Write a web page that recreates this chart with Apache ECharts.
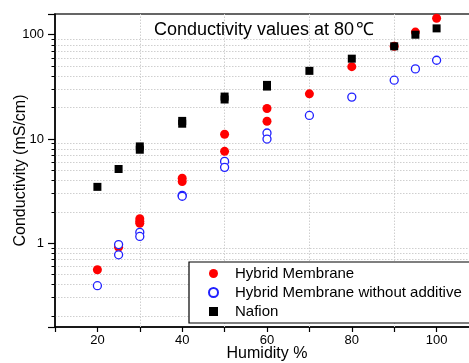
<!DOCTYPE html>
<html><head><meta charset="utf-8">
<script src="https://cdn.jsdelivr.net/npm/echarts@6/dist/echarts.min.js"></script>
<style>html,body{margin:0;padding:0;background:#fff}#c{width:469px;height:363px}</style>
</head><body><div id="c"></div>
<script>
const seriesNames = ['Hybrid Membrane', 'Hybrid Membrane without additive', 'Nafion'];
const hybridX = [20, 25, 30, 30, 30, 40, 40, 50, 50, 60, 60, 70, 80, 90, 95, 100];
const hybridY = [0.556, 0.916, 1.72, 1.62, 1.55, 4.2, 3.9, 11.1, 7.6, 19.6, 14.8, 27.1, 49.4, 77.4, 106, 144];
const noAddX = [20, 25, 25, 30, 30, 40, 40, 50, 50, 60, 60, 70, 80, 90, 95, 100];
const noAddY = [0.391, 0.97, 0.774, 1.27, 1.16, 2.88, 2.82, 6.09, 5.34, 11.4, 9.98, 16.8, 25.2, 36.6, 47.0, 56.9];
const nafionX = [20, 25, 30, 30, 40, 40, 50, 50, 60, 60, 70, 80, 90, 95, 100];
const nafionY = [3.47, 5.15, 8.48, 7.88, 14.9, 14.0, 25.5, 23.9, 33.0, 31.8, 45.0, 58.9, 77.4, 100, 115];
const xTickLabels = [20, 40, 60, 80, 100];
const yTickLabels = [1, 10, 100];
const xGridValues = [30, 50, 70, 90];

const FONT = '"Liberation Sans", Arial, sans-serif';
const GRID_COLOR = '#cfcfcf';
const zip = (xs, ys) => xs.map((x, i) => [x, ys[i]]);

const chart = echarts.init(document.getElementById('c'), null, {renderer: 'canvas'});
chart.setOption({
  animation: false,
  backgroundColor: '#fff',
  title: {
    text: '{a|Conductivity values at 80}{b|\u2103}',
    left: 154, top: 21, padding: 0, z: 10,
    textStyle: {
      fontFamily: FONT, fontSize: 18, fontWeight: 'normal', color: '#000',
      rich: {
        a: {fontFamily: FONT, fontSize: 18, color: '#000'},
        b: {fontFamily: FONT, fontSize: 18, color: '#000', padding: [0, 0, 0, 2]}
      }
    }
  },
  grid: {left: 55, top: 14, right: -10, bottom: 36, outerBoundsMode: 'none', containLabel: false,
    show: true, borderColor: '#333', borderWidth: 1.5, backgroundColor: 'transparent'},
  legend: {
    data: seriesNames,
    orient: 'vertical',
    left: 189, top: 262, z: 20,
    padding: [4, 8, 4, 19],
    itemGap: 4,
    itemWidth: 9, itemHeight: 9,
    borderColor: '#000', borderWidth: 1.2,
    backgroundColor: '#fff',
    textStyle: {fontFamily: FONT, fontSize: 15, color: '#000', padding: [0, 0, 0, 12]}
  },
  xAxis: {
    type: 'value', min: 10, max: 110, interval: 10,
    name: 'Humidity %', nameLocation: 'middle', nameGap: 19, nameMoveOverlap: false,
    nameTextStyle: {fontFamily: FONT, fontSize: 16, color: '#000'},
    axisLine: {lineStyle: {color: '#000', width: 1.5}},
    axisTick: {show: true, inside: false, length: 5, lineStyle: {color: '#000', width: 1.2}},
    axisLabel: {fontFamily: FONT, fontSize: 13, color: '#000', margin: 7,
      formatter: v => xTickLabels.indexOf(v) >= 0 ? String(v) : ''},
    splitLine: {show: false}
  },
  yAxis: {
    type: 'log', logBase: 10, min: 0.157, max: 158,
    name: 'Conductivity (mS/cm)', nameLocation: 'middle', nameGap: 26, nameMoveOverlap: false,
    nameTextStyle: {fontFamily: FONT, fontSize: 16, color: '#000'},
    axisLine: {lineStyle: {color: '#000', width: 1.5}},
    axisTick: {show: true, inside: false, length: 7, lineStyle: {color: '#000', width: 1.2}},
    minorTick: {show: true, splitNumber: 9, length: 3.5, lineStyle: {color: '#000', width: 1}},
    minorSplitLine: {show: true, lineStyle: {color: GRID_COLOR, type: [1.5, 1.5], width: 1}},
    axisLabel: {fontFamily: FONT, fontSize: 13, color: '#000', margin: 11,
      showMinLabel: false, showMaxLabel: false,
      formatter: v => yTickLabels.some(t => Math.abs(t - v) / t < 1e-6) ? String(Math.round(v)) : ''},
    splitLine: {show: false}
  },
  series: [
    {
      name: seriesNames[0], type: 'scatter', data: zip(hybridX, hybridY),
      symbol: 'circle', symbolSize: 9,
      itemStyle: {color: '#ff0000', opacity: 1}, z: 3,
      markLine: {
        silent: true, symbol: 'none', label: {show: false}, animation: false, z: 1,
        lineStyle: {color: GRID_COLOR, type: [1.5, 1.5], width: 1, opacity: 1},
        emphasis: {disabled: true},
        data: xGridValues.map(v => ({xAxis: v}))
      }
    },
    {
      name: seriesNames[1], type: 'scatter', data: zip(noAddX, noAddY),
      symbol: 'circle', symbolSize: 8,
      itemStyle: {color: '#ffffff', borderColor: '#2020ff', borderWidth: 1.3, opacity: 1}, z: 4
    },
    {
      name: seriesNames[2], type: 'scatter', data: zip(nafionX, nafionY),
      symbol: 'rect', symbolSize: 8,
      itemStyle: {color: '#000000', opacity: 1}, z: 5
    }
  ]
});
</script>
</body></html>
